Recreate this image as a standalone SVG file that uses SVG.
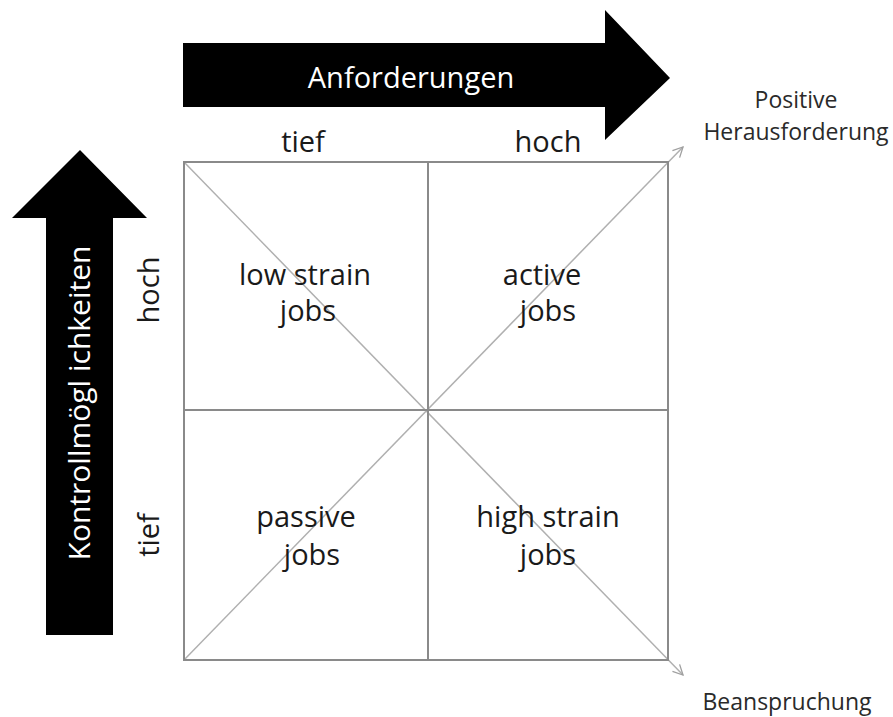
<svg xmlns="http://www.w3.org/2000/svg" width="893" height="717" viewBox="0 0 893 717">
<defs>
<style>
text{font-family:"Open Sans","Liberation Sans",sans-serif;fill:#1a1a1a}
.big{font-size:29px}
.q{font-size:29px;text-anchor:middle}
.side{font-size:23px;text-anchor:middle;fill:#2a2a2a}
.grid{stroke:#8a8a8a;stroke-width:2;fill:none}
.diag{stroke:#b0b0b0;stroke-width:1.5;fill:none}
</style>
<marker id="oa" viewBox="0 0 12 12" refX="11" refY="6" markerWidth="12" markerHeight="12" markerUnits="userSpaceOnUse" orient="auto">
<path d="M1,1 L11,6 L1,11" fill="none" stroke="#a0a0a0" stroke-width="1.3"/>
</marker>
</defs>
<g id="arrow-anforderungen">
<polygon points="183,43 605,43 605,10 670,78 605,140 605,107 183,107" fill="#000"/>
<text x="411" y="88" class="big" text-anchor="middle" style="fill:#fff">Anforderungen</text>
</g>
<g id="arrow-kontroll">
<polygon points="46,635 46,218 12,218 80,150 147,218 113,218 113,635" fill="#000"/>
<text transform="translate(90,403) rotate(-90)" class="big" text-anchor="middle" style="fill:#fff;font-size:30px">Kontrollmögl ichkeiten</text>
</g>
<g id="axis-labels">
<text x="303" y="152" class="q">tief</text>
<text x="548" y="152" class="q">hoch</text>
<text transform="translate(159,290) rotate(-90)" class="q">hoch</text>
<text transform="translate(159,535) rotate(-90)" class="q">tief</text>
</g>
<g id="connectors">
<line x1="184" y1="660" x2="683" y2="147" class="diag" marker-end="url(#oa)"/>
<line x1="184" y1="162" x2="683" y2="675" class="diag" marker-end="url(#oa)"/>
</g>
<g id="grid">
<rect x="184" y="162" width="484" height="498" class="grid"/>
<line x1="428" y1="162" x2="428" y2="660" class="grid"/>
<line x1="184" y1="410" x2="668" y2="410" class="grid"/>
</g>
<g id="q-low-strain"><text x="305" y="285" class="q">low strain</text><text x="308" y="321" class="q">jobs</text></g>
<g id="q-active"><text x="542" y="285" class="q">active</text><text x="548" y="321" class="q">jobs</text></g>
<g id="q-passive"><text x="306" y="527" class="q">passive</text><text x="312" y="565" class="q">jobs</text></g>
<g id="q-high-strain"><text x="548" y="527" class="q">high strain</text><text x="548" y="565" class="q">jobs</text></g>
<g id="label-positive"><text x="796" y="108" class="side">Positive</text><text x="796" y="140" class="side">Herausforderung</text></g>
<g id="label-beanspruchung"><text x="787" y="710" class="side">Beanspruchung</text></g>
</svg>
